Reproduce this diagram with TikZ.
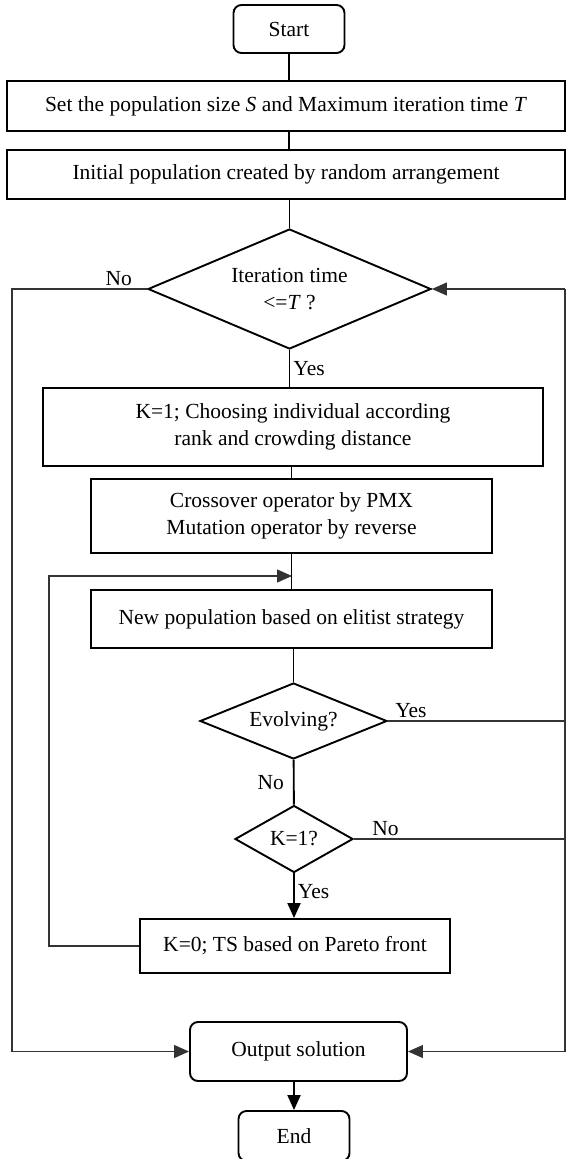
\documentclass[tikz,border=0pt]{standalone}
\usepackage{fontspec}
\setmainfont{Liberation Serif}
\usetikzlibrary{arrows.meta,shapes.geometric}

\begin{document}
\begin{tikzpicture}[
  x=1pt, y=-1pt,
  >={Triangle[length=15pt, width=13pt]},
  font=\fontsize{21.5}{26.5}\selectfont,
  terminal/.style={draw, rounded corners=8pt, line width=1.9pt, align=center, inner sep=0pt},
  process/.style={draw, line width=1.9pt, align=center, inner sep=0pt},
  decision/.style={draw, diamond, line width=1.9pt, align=center, inner sep=0pt},
  link/.style={draw, line width=1.9pt},
  loop/.style={draw, line width=1.2pt, color=black!80},
  lbl/.style={inner sep=3pt, text=black}
]
  \useasboundingbox (0,0) rectangle (566,1159);

  \node[terminal, minimum width=111pt, minimum height=48pt] (start) at (289,29) {Start};
  \node[process, minimum width=558pt, minimum height=50pt] (setsize) at (286,106)
    {Set the population size \textit{S} and Maximum iteration time \textit{T}};
  \node[process, minimum width=558pt, minimum height=49pt] (init) at (286,174.5)
    {Initial population created by random arrangement};
  \node[decision, minimum width=283pt, minimum height=120pt, aspect=2.36] (iter) at (289.5,289)
    {Iteration time\\<=\textit{T} ?};
  \node[process, minimum width=500pt, minimum height=78pt] (choose) at (293,427)
    {K=1; Choosing individual according\\rank and crowding distance};
  \node[process, minimum width=401pt, minimum height=74pt] (cross) at (291.5,516)
    {Crossover operator by PMX\\Mutation operator by reverse};
  \node[process, minimum width=401pt, minimum height=58pt] (newpop) at (291.5,619)
    {New population based on elitist strategy};
  \node[decision, minimum width=187pt, minimum height=76pt, aspect=2.46] (evolve) at (293.5,721) {Evolving?};
  \node[decision, minimum width=118pt, minimum height=67pt, aspect=1.76] (kone) at (294,839) {K=1?};
  \node[process, minimum width=310pt, minimum height=54pt] (kzero) at (295,946)
    {K=0; TS based on Pareto front};
  \node[terminal, minimum width=217pt, minimum height=59pt] (output) at (298.5,1051.5) {Output solution};
  \node[terminal, minimum width=111pt, minimum height=50pt] (finish) at (294,1136) {End};

  \coordinate (leftrail) at (12,289);
  \coordinate (rightrail) at (565,289);
  \coordinate (rightbot) at (565,1051.5);
  \coordinate (rejoin) at (292,576);

  % main line
  \path[link] (start) -- (start |- setsize.north);
  \path[link] (start |- setsize.south) -- (start |- init.north);
  \path[link] (iter |- init.south) -- (iter);
  \path[link] (iter) -- node[lbl, right]{Yes} (iter |- choose.north);
  \path[link] (cross |- choose.south) -- (cross);
  \path[link] (cross) -- (newpop);
  \path[link] (evolve |- newpop.south) -- (evolve);
  \path[link] (evolve) -- node[lbl, left, inner sep=9pt]{No} (kone);
  \path[link, ->] (kone) -- node[lbl, right, pos=0.4]{Yes} (kone |- kzero.north);
  \path[link, ->] (finish |- output.south) -- (finish);

  % loops
  \path[loop, ->] (iter.west) -- node[lbl, above, pos=0.21]{No} (leftrail) |- (output.west);
  \path[loop, ->] (kzero.west) -- ++(-90,0) |- (rejoin);
  \path[loop] (evolve.east) -- node[lbl, above, pos=0.13]{Yes} (evolve.east -| rightrail);
  \path[loop] (kone.east) -- node[lbl, above, pos=0.15]{No} (kone.east -| rightrail);
  \path[loop] (rightrail) -- (rightbot);
  \path[loop, ->] (rightrail) -- (iter.east);
  \path[loop, ->] (rightbot) -- (output.east);
\end{tikzpicture}
\end{document}
